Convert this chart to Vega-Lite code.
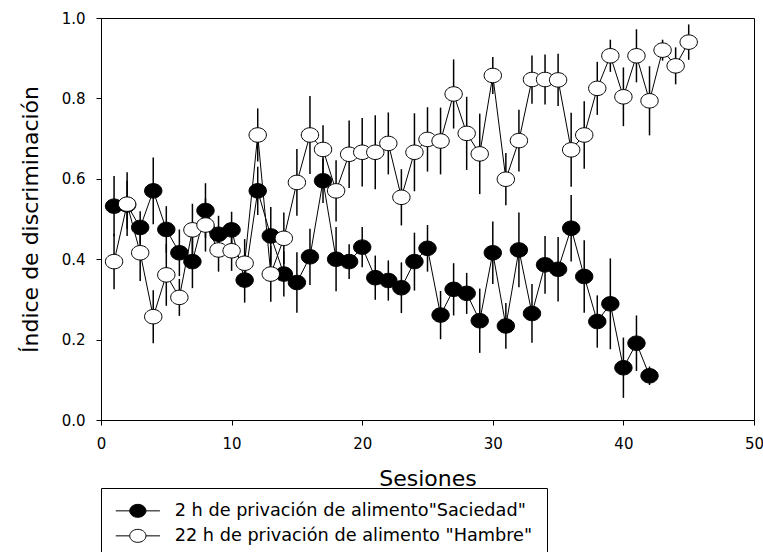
{
  "$schema": "https://vega.github.io/schema/vega-lite/v6.json",
  "width": 653,
  "height": 402,
  "autosize": {"type": "none"},
  "padding": {"left": 101, "top": 18, "right": 9, "bottom": 132},
  "background": "white",
  "config": {
    "font": "DejaVu Sans",
    "view": {"stroke": "black", "strokeWidth": 1},
    "axis": {
      "grid": false, "domainColor": "black", "tickColor": "black", "labelColor": "black",
      "titleColor": "black", "tickSize": 5, "domainWidth": 1, "tickWidth": 1,
      "labelFont": "DejaVu Sans", "titleFont": "DejaVu Sans", "labelFontSize": 15,
      "titleFontWeight": "normal", "titleFontSize": 22, "labelFlush": false, "labelOverlap": false
    }
  },
  "data": {"values": [
    {"k":"S","s":1,"v":0.532,"e":0.075},{"k":"S","s":2,"v":0.535,"e":0.06},{"k":"S","s":3,"v":0.479,"e":0.04},
    {"k":"S","s":4,"v":0.570,"e":0.083},{"k":"S","s":5,"v":0.474,"e":0.058},{"k":"S","s":6,"v":0.416,"e":0.058},
    {"k":"S","s":7,"v":0.394,"e":0.066},{"k":"S","s":8,"v":0.521,"e":0.068},{"k":"S","s":9,"v":0.462,"e":0.046},
    {"k":"S","s":10,"v":0.473,"e":0.045},{"k":"S","s":11,"v":0.348,"e":0.056},{"k":"S","s":12,"v":0.570,"e":0.06},
    {"k":"S","s":13,"v":0.458,"e":0.072},{"k":"S","s":14,"v":0.363,"e":0.056},{"k":"S","s":15,"v":0.342,"e":0.075},
    {"k":"S","s":16,"v":0.406,"e":0.07},{"k":"S","s":17,"v":0.595,"e":0.055},{"k":"S","s":18,"v":0.400,"e":0.08},
    {"k":"S","s":19,"v":0.394,"e":0.043},{"k":"S","s":20,"v":0.430,"e":0.05},{"k":"S","s":21,"v":0.354,"e":0.055},
    {"k":"S","s":22,"v":0.347,"e":0.05},{"k":"S","s":23,"v":0.329,"e":0.063},{"k":"S","s":24,"v":0.394,"e":0.072},
    {"k":"S","s":25,"v":0.427,"e":0.058},{"k":"S","s":26,"v":0.261,"e":0.06},{"k":"S","s":27,"v":0.325,"e":0.065},
    {"k":"S","s":28,"v":0.315,"e":0.051},{"k":"S","s":29,"v":0.247,"e":0.08},{"k":"S","s":30,"v":0.416,"e":0.078},
    {"k":"S","s":31,"v":0.234,"e":0.057},{"k":"S","s":32,"v":0.423,"e":0.093},{"k":"S","s":33,"v":0.265,"e":0.073},
    {"k":"S","s":34,"v":0.386,"e":0.072},{"k":"S","s":35,"v":0.375,"e":0.08},{"k":"S","s":36,"v":0.477,"e":0.083},
    {"k":"S","s":37,"v":0.357,"e":0.09},{"k":"S","s":38,"v":0.245,"e":0.065},{"k":"S","s":39,"v":0.289,"e":0.113},
    {"k":"S","s":40,"v":0.130,"e":0.075},{"k":"S","s":41,"v":0.191,"e":0.069},{"k":"S","s":42,"v":0.110,"e":0.023},
    {"k":"H","s":1,"v":0.394,"e":0.069},{"k":"H","s":2,"v":0.537,"e":0.079},{"k":"H","s":3,"v":0.416,"e":0.07},
    {"k":"H","s":4,"v":0.257,"e":0.066},{"k":"H","s":5,"v":0.361,"e":0.077},{"k":"H","s":6,"v":0.305,"e":0.046},
    {"k":"H","s":7,"v":0.473,"e":0.065},{"k":"H","s":8,"v":0.485,"e":0.066},{"k":"H","s":9,"v":0.423,"e":0.054},
    {"k":"H","s":10,"v":0.421,"e":0.05},{"k":"H","s":11,"v":0.390,"e":0.06},{"k":"H","s":12,"v":0.709,"e":0.066},
    {"k":"H","s":13,"v":0.363,"e":0.069},{"k":"H","s":14,"v":0.452,"e":0.064},{"k":"H","s":15,"v":0.591,"e":0.083},
    {"k":"H","s":16,"v":0.709,"e":0.097},{"k":"H","s":17,"v":0.673,"e":0.06},{"k":"H","s":18,"v":0.570,"e":0.076},
    {"k":"H","s":19,"v":0.661,"e":0.084},{"k":"H","s":20,"v":0.666,"e":0.085},{"k":"H","s":21,"v":0.666,"e":0.092},
    {"k":"H","s":22,"v":0.688,"e":0.077},{"k":"H","s":23,"v":0.554,"e":0.07},{"k":"H","s":24,"v":0.666,"e":0.097},
    {"k":"H","s":25,"v":0.698,"e":0.08},{"k":"H","s":26,"v":0.694,"e":0.083},{"k":"H","s":27,"v":0.811,"e":0.086},
    {"k":"H","s":28,"v":0.713,"e":0.091},{"k":"H","s":29,"v":0.662,"e":0.1},{"k":"H","s":30,"v":0.857,"e":0.046},
    {"k":"H","s":31,"v":0.599,"e":0.065},{"k":"H","s":32,"v":0.695,"e":0.077},{"k":"H","s":33,"v":0.847,"e":0.06},
    {"k":"H","s":34,"v":0.847,"e":0.062},{"k":"H","s":35,"v":0.846,"e":0.065},{"k":"H","s":36,"v":0.672,"e":0.092},
    {"k":"H","s":37,"v":0.709,"e":0.084},{"k":"H","s":38,"v":0.825,"e":0.066},{"k":"H","s":39,"v":0.906,"e":0.04},
    {"k":"H","s":40,"v":0.804,"e":0.073},{"k":"H","s":41,"v":0.906,"e":0.066},{"k":"H","s":42,"v":0.794,"e":0.086},
    {"k":"H","s":43,"v":0.920,"e":0.026},{"k":"H","s":44,"v":0.881,"e":0.046},{"k":"H","s":45,"v":0.940,"e":0.044}
  ]},
  "encoding": {
    "x": {"field": "s", "type": "quantitative", "scale": {"domain": [0, 50], "nice": false},
      "axis": {"title": "Sesiones", "values": [0, 10, 20, 30, 40, 50], "labelPadding": 11,
        "titleY": 65, "titleBaseline": "alphabetic"}},
    "y": {"field": "v", "type": "quantitative", "scale": {"domain": [0, 1], "nice": false},
      "axis": {"title": "Índice de discriminación", "values": [0, 0.2, 0.4, 0.6, 0.8, 1], "format": ".1f",
        "labelPadding": 11, "titleX": -71, "titleBaseline": "middle"}}
  },
  "layer": [
    {"transform": [{"filter": "datum.k == 'S'"}],
     "mark": {"type": "errorbar", "color": "black", "thickness": 1.5},
     "encoding": {"yError": {"field": "e"}}},
    {"transform": [{"filter": "datum.k == 'S'"}],
     "mark": {"type": "line", "color": "black", "strokeWidth": 1}},
    {"transform": [{"filter": "datum.k == 'S'"}, {"lookup": "k", "from": {"data": {"values": [{"k": "S", "g": "2 h de privación de alimento\"Saciedad\""}, {"k": "H", "g": "22 h de privación de alimento \"Hambre\""}]}, "key": "k", "fields": ["g"]}}],
     "mark": {"type": "point", "filled": true, "opacity": 1, "stroke": "black", "strokeWidth": 1, "size": 210,
       "shape": "M-1.2,0C-1.2,-0.5523,-0.6628,-1,0,-1C0.6628,-1,1.2,-0.5523,1.2,0C1.2,0.5523,0.6628,1,0,1C-0.6628,1,-1.2,0.5523,-1.2,0Z"},
     "encoding": {"fill": {"field": "g", "type": "nominal",
       "scale": {"domain": ["2 h de privación de alimento\"Saciedad\"", "22 h de privación de alimento \"Hambre\""], "range": ["black", "white"]},
       "legend": {"title": null, "orient": "none", "legendX": 0, "legendY": 470, "direction": "vertical",
         "strokeColor": "black", "padding": 14,
         "symbolType": "M-3.4,0L-1.25,0M1.25,0L3.4,0M-1.25,0C-1.25,-0.5523,-0.6904,-1,0,-1C0.6904,-1,1.25,-0.5523,1.25,0C1.25,0.5523,0.6904,1,0,1C-0.6904,1,-1.25,0.5523,-1.25,0Z",
         "symbolSize": 169, "symbolStrokeColor": "black", "symbolStrokeWidth": 1, "symbolOpacity": 1,
         "symbolOffset": 14, "labelOffset": 28, "labelFontSize": 17.7, "labelFont": "DejaVu Sans",
         "labelColor": "black", "rowPadding": 6, "labelLimit": 600}}}},
    {"transform": [{"filter": "datum.k == 'H'"}],
     "mark": {"type": "errorbar", "color": "black", "thickness": 1.5},
     "encoding": {"yError": {"field": "e"}}},
    {"transform": [{"filter": "datum.k == 'H'"}],
     "mark": {"type": "line", "color": "black", "strokeWidth": 1}},
    {"transform": [{"filter": "datum.k == 'H'"}, {"lookup": "k", "from": {"data": {"values": [{"k": "S", "g": "2 h de privación de alimento\"Saciedad\""}, {"k": "H", "g": "22 h de privación de alimento \"Hambre\""}]}, "key": "k", "fields": ["g"]}}],
     "mark": {"type": "point", "filled": true, "opacity": 1, "stroke": "black", "strokeWidth": 1, "size": 210,
       "shape": "M-1.2,0C-1.2,-0.5523,-0.6628,-1,0,-1C0.6628,-1,1.2,-0.5523,1.2,0C1.2,0.5523,0.6628,1,0,1C-0.6628,1,-1.2,0.5523,-1.2,0Z"},
     "encoding": {"fill": {"field": "g", "type": "nominal"}}}
  ]
}
